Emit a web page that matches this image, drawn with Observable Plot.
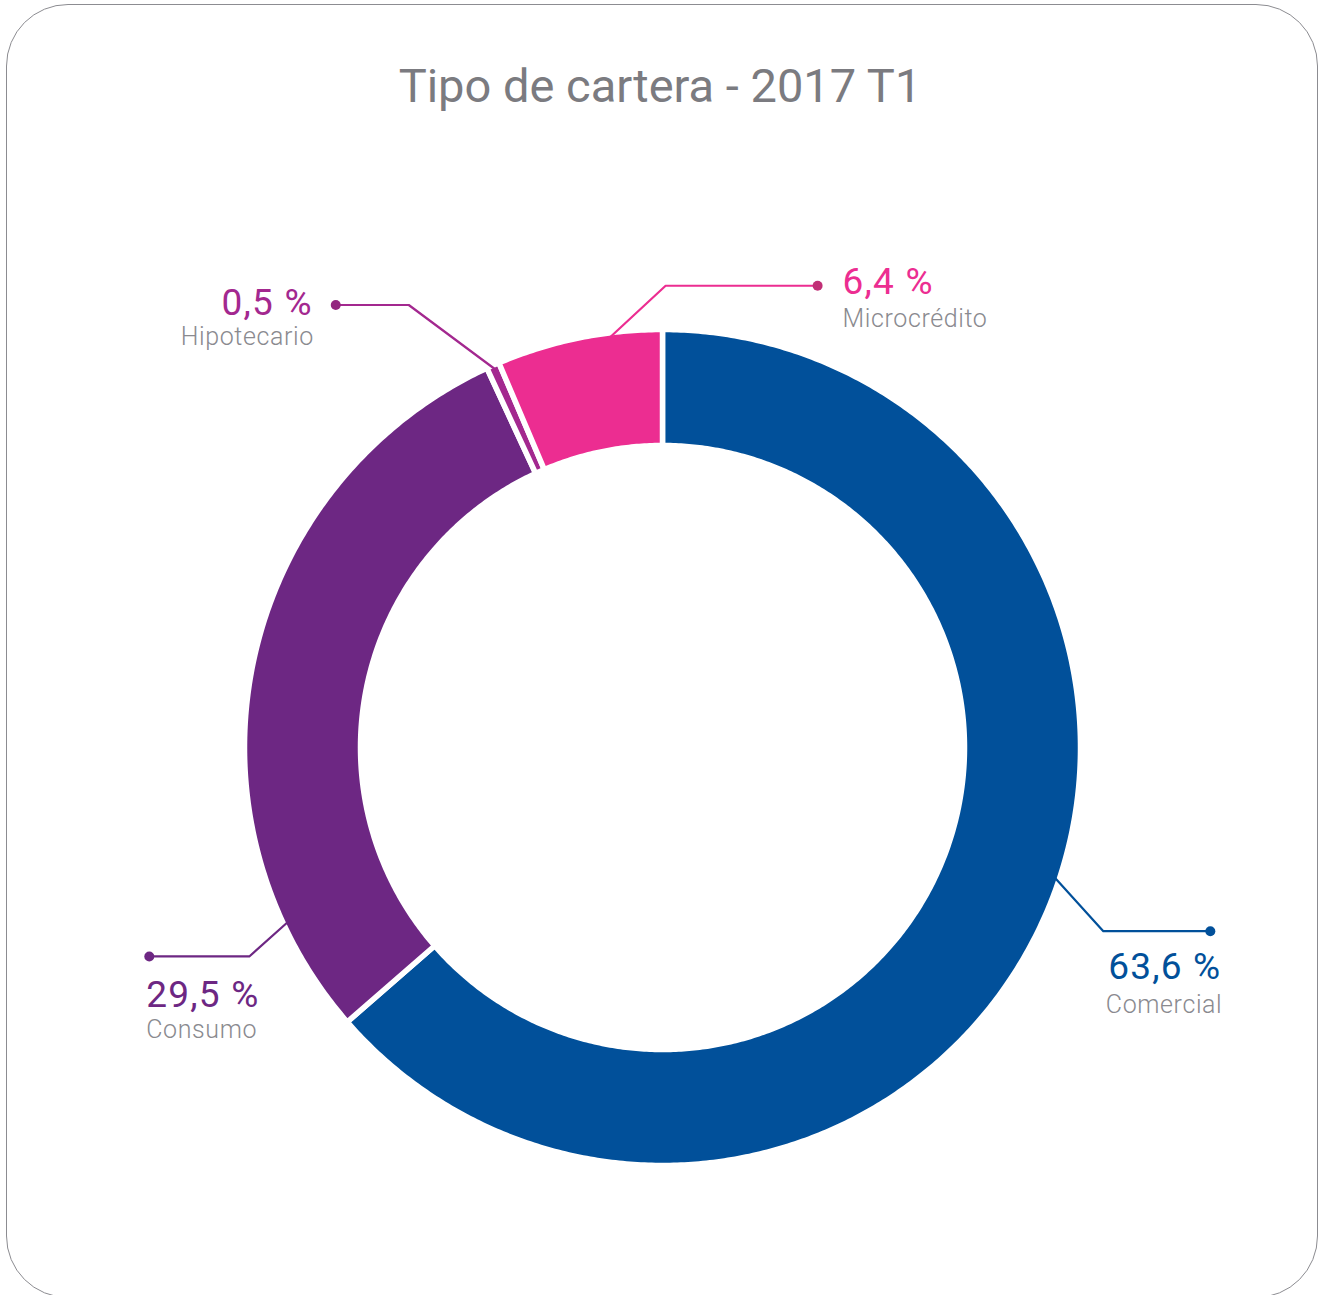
<!DOCTYPE html>
<html>
<head>
<meta charset="utf-8">
<script src="https://cdn.jsdelivr.net/npm/d3@7"></script>
<script src="https://cdn.jsdelivr.net/npm/@observablehq/plot@0.6"></script>
<style>
  html, body { margin: 0; padding: 0; background: #fff; }
  #page { position: relative; width: 1320px; height: 1295px; overflow: hidden; }
  #frame { position: absolute; left: 6px; top: 4px; width: 1312px; height: 1294px;
           border: 1.5px solid #8c8c91; border-radius: 62px; box-sizing: border-box; }
  #title { position: absolute; left: 0; top: 62px; width: 1320px; text-align: center;
           font-family: Roboto, "Noto Sans", sans-serif; font-size: 47px; line-height: 1;
           color: #7b7b80; font-weight: 400; margin: 0; }
  #chart { position: absolute; left: 0; top: 0; }
  #chart g[font-size="37"] text { letter-spacing: 1.2px; }
  #chart g[font-size="25"] text { letter-spacing: 0.6px; }
</style>
</head>
<body>
<div id="page">
  <div id="frame"></div>
  <h1 id="title">Tipo de cartera - 2017 T1</h1>
  <div id="chart"></div>
</div>
<script>
// ---- Data ----
const categories = ["Comercial", "Consumo", "Hipotecario", "Microcrédito"];
const values = [63.6, 29.5, 0.5, 6.4];
const valueLabels = ["63,6 %", "29,5 %", "0,5 %", "6,4 %"];

// ---- Style ----
const colors = ["#01509a", "#6d2783", "#a3288f", "#ec2d91"];
const dotColors = ["#01509a", "#6d2783", "#93267f", "#c12f76"];
const nameColor = "#8a8a8f";

// ---- Layout of the callouts (leader angle in degrees, elbow offset, horizontal run, label offsets) ----
const callouts = [
  {angle: 108.4, elbow: [48, 53], run: 107, side: "below", anchor: "end", labelDx: 11, pctDy: 48, nameDy: 82},
  {angle: 245, elbow: [-38, 34], run: -100, side: "below", anchor: "start", labelDx: -3, pctDy: 51, nameDy: 82},
  {angle: 336.1, elbow: [-86, -64], run: -73, side: "beside", anchor: "end", labelDx: -23, pctDy: 10, nameDy: 40},
  {angle: 352.8, elbow: [55, -51], run: 152, side: "beside", anchor: "start", labelDx: 25, pctDy: 8, nameDy: 41}
];

const R_OUT = 418, R_IN = 302;
const CX = 662, CY = 747, W = 1320, H = 1295;

const rows = categories.map((c, i) => ({cat: c, value: values[i], label: valueLabels[i], color: colors[i], dot: dotColors[i]}));
const arcs = d3.pie().sort(null).value(d => d.value)(rows);

// Annulus sectors as closed polygons
const slicePts = arcs.flatMap(a => {
  const n = Math.max(6, Math.ceil((a.endAngle - a.startAngle) / (Math.PI / 360)));
  const ang = d3.range(n + 1).map(i => a.startAngle + (a.endAngle - a.startAngle) * i / n);
  const outer = ang.map(t => ({cat: a.data.cat, x: R_OUT * Math.sin(t), y: -R_OUT * Math.cos(t)}));
  const inner = ang.slice().reverse().map(t => ({cat: a.data.cat, x: R_IN * Math.sin(t), y: -R_IN * Math.cos(t)}));
  return outer.concat(inner);
});

// Leader lines
const R_LEAD = 414;
const leaders = rows.map((r, i) => {
  const c = callouts[i];
  const t = c.angle * Math.PI / 180;
  const p0 = [R_LEAD * Math.sin(t), -R_LEAD * Math.cos(t)];
  const p1 = [p0[0] + c.elbow[0], p0[1] + c.elbow[1]];
  const p2 = [p1[0] + c.run, p1[1]];
  return {...r, ...c, pts: [p0, p1, p2]};
});
const leaderPts = leaders.flatMap(l => l.pts.map(p => ({cat: l.cat, x: p[0], y: p[1]})));
const dots = leaders.map(l => ({cat: l.cat, x: l.pts[2][0], y: l.pts[2][1], fill: l.dot}));
const pctLabels = leaders.map(l => ({
  x: l.pts[2][0] + l.labelDx,
  y: l.pts[2][1] + l.pctDy,
  text: l.label, anchor: l.anchor, fill: l.color
}));
const nameLabels = leaders.map(l => ({
  x: l.pts[2][0] + l.labelDx + (l.anchor === "end" ? 1 : 0),
  y: l.pts[2][1] + l.nameDy,
  text: l.cat, anchor: l.anchor
}));

const txt = (data, opts) => ["start", "end"].map(a => Plot.text(data.filter(d => d.anchor === a), {
  x: "x", y: "y", text: "text", textAnchor: a, lineAnchor: "bottom", ...opts
}));

const chart = Plot.plot({
  width: W, height: H,
  margin: 0,
  x: {domain: [-CX, W - CX], range: [0, W], axis: null},
  y: {domain: [-CY, H - CY], range: [0, H], axis: null},
  color: {domain: categories, range: colors},
  style: {background: "transparent"},
  marks: [
    Plot.line(slicePts, {x: "x", y: "y", z: "cat", fill: "cat", stroke: "white", strokeWidth: 5.5, curve: "linear-closed"}),
    Plot.line(leaderPts, {x: "x", y: "y", z: "cat", stroke: "cat", strokeWidth: 2.2, strokeLinejoin: "round"}),
    Plot.dot(dots, {x: "x", y: "y", r: 5, fill: d => d.fill, stroke: null}),
    ...txt(pctLabels, {fill: d => d.fill, fontSize: 37, fontFamily: "Roboto, sans-serif", fontWeight: 400}),
    ...txt(nameLabels, {fill: nameColor, fontSize: 25, fontFamily: "Roboto, sans-serif", fontWeight: 300})
  ]
});
document.getElementById("chart").appendChild(chart);
</script>
</body>
</html>
